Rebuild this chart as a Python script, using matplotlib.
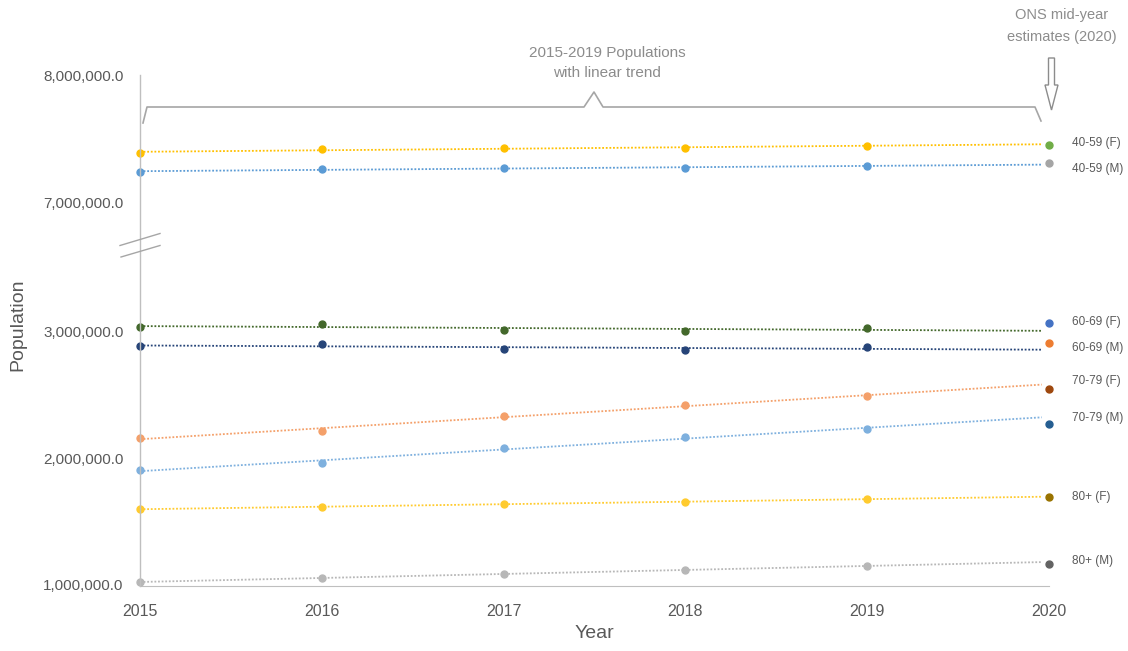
import matplotlib
matplotlib.use("Agg")
import matplotlib.pyplot as plt
import numpy as np
from matplotlib.lines import Line2D
from matplotlib.patches import Polygon

plt.rcParams['font.family'] = ['Liberation Sans', 'DejaVu Sans']

# data
years = [2015, 2016, 2017, 2018, 2019]
year_est = 2020
groups = ["40-59 (F)", "40-59 (M)", "60-69 (F)", "60-69 (M)",
          "70-79 (F)", "70-79 (M)", "80+ (F)", "80+ (M)"]
pop_40_59_f = [7386000, 7417000, 7425000, 7428000, 7440000]
pop_40_59_m = [7236000, 7260000, 7268000, 7270000, 7283000]
pop_60_69_f = [3040000, 3063000, 3016000, 3008000, 3030000]
pop_60_69_m = [2890000, 2905000, 2866000, 2858000, 2880000]
pop_70_79_f = [2162000, 2217000, 2336000, 2423000, 2494000]
pop_70_79_m = [1905000, 1968000, 2080000, 2170000, 2233000]
pop_80_f = [1600000, 1617000, 1640000, 1656000, 1680000]
pop_80_m = [1024000, 1055000, 1087000, 1120000, 1150000]
ons_2020 = [7450000, 7307000, 3070000, 2913000, 2550000, 2273000, 1696000, 1166000]

series = [pop_40_59_f, pop_40_59_m, pop_60_69_f, pop_60_69_m,
          pop_70_79_f, pop_70_79_m, pop_80_f, pop_80_m]

# styles
colors = ["#FFC000", "#5B9BD5", "#43682B", "#264478",
          "#F4A06A", "#7EB0DE", "#FFCB2E", "#B7B7B7"]
colors_2020 = ["#70AD47", "#A5A5A5", "#4472C4", "#ED7D31",
               "#9E480E", "#255E91", "#997300", "#636363"]
label_dy = [2, -6, 1, -5, 8, 6, 0, 3]   # pixel nudges for right-side labels
upper = [True, True, False, False, False, False, False, False]

W, H = 1128, 651
fig = plt.figure(figsize=(W / 100, H / 100), dpi=100)


def px(x, y):
    return x / W, 1 - y / H


x0, x1 = 140, 1049
ax_top = fig.add_axes([x0 / W, 1 - 240 / H, (x1 - x0) / W, (240 - 75) / H])
ax_bot = fig.add_axes([x0 / W, 1 - 586 / H, (x1 - x0) / W, (586 - 251) / H])
ax_top.set_ylim(6.7008e6, 8.0e6)
ax_bot.set_ylim(0.992e6, 3.64e6)

tick_col = "#595959"
for ax in (ax_top, ax_bot):
    ax.set_xlim(2015, 2020)
    for s in ax.spines.values():
        s.set_visible(False)
    ax.tick_params(length=0, labelsize=11, labelcolor=tick_col, pad=12)
    ax.yaxis.set_major_formatter(lambda v, p: f"{v:,.1f}")
    ax.patch.set_alpha(0)

ax_top.set_yticks([7e6, 8e6])
ax_top.set_xticks([])
ax_bot.set_yticks([1e6, 2e6, 3e6])
ax_bot.set_xticks([2015, 2016, 2017, 2018, 2019, 2020])
ax_bot.tick_params(axis='x', pad=13, labelsize=11.5)
ax_bot.spines['bottom'].set_visible(True)
ax_bot.spines['bottom'].set_color("#BFBFBF")

for vals, c, c20, name, dy, up in zip(series, colors, colors_2020, groups, label_dy, upper):
    ax = ax_top if up else ax_bot
    slope, inter = np.polyfit(years, vals, 1)
    xt = np.array([2015, 2019.96])
    ax.plot(xt, slope * xt + inter, linestyle=(0, (1, 1)), color=c, lw=1.3, clip_on=False)
    ax.plot(years, vals, "o", color=c, ms=5, clip_on=False, zorder=3)
    v20 = ons_2020[groups.index(name)]
    ax.plot([year_est], [v20], "o", color=c20, ms=5, clip_on=False, zorder=3)
    ax.annotate(name, (year_est, v20), xytext=(23, dy), textcoords="offset pixels",
                fontsize=8.5, color=tick_col, va="center", ha="left")

line_col = "#BFBFBF"
# continuous y-axis line and break marks
fig.add_artist(Line2D(*zip(px(140, 75), px(140, 586)), color=line_col, lw=1))
fig.add_artist(Line2D(*zip(px(120, 245.5), px(160, 233.5)), color="#A6A6A6", lw=1))
fig.add_artist(Line2D(*zip(px(121, 257), px(160, 245.5)), color="#A6A6A6", lw=1))

ax_bot.set_xlabel("Year", fontsize=14, color=tick_col, labelpad=4)
fig.text(*px(18, 325), "Population", rotation=90, fontsize=14, color=tick_col,
         ha="center", va="center")

# bracket over 2015-2019
br = [(143, 123), (147, 107), (584, 107), (594, 92), (603, 107),
      (1035, 107), (1041, 121)]
fig.add_artist(Line2D([px(*p)[0] for p in br], [px(*p)[1] for p in br],
                      color="#A6A6A6", lw=1.2))
ann_col = "#8C8C8C"
fig.text(*px(607, 63), "2015-2019 Populations\nwith linear trend", fontsize=11,
         color=ann_col, ha="center", va="center", linespacing=1.6)
fig.text(*px(1062, 26), "ONS mid-year\nestimates (2020)", fontsize=10.5,
         color=ann_col, ha="center", va="center", linespacing=1.65)

# hollow down arrow
arrow = [(1048.5, 58), (1054.5, 58), (1054.5, 85), (1058, 85), (1051.5, 110),
         (1045, 85), (1048.5, 85)]
fig.add_artist(Polygon([px(*p) for p in arrow], closed=True, fc="white",
                       ec="#8C8C8C", lw=1))

fig.savefig("out.png", dpi=100)
